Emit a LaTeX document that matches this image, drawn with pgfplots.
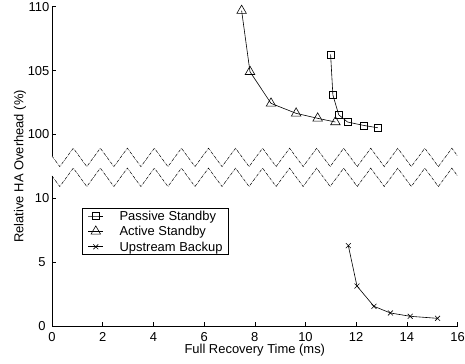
\documentclass[border=0pt]{standalone}
\usepackage{fontspec}
\setmainfont{Liberation Sans}
\usepackage{pgfplots}
\pgfplotsset{compat=1.18}
\usepackage{pgfplotstable}

% Upper group values (real percentages, drawn shifted by -85 on the broken axis)
\pgfplotstableread{
x y
10.99 106.27
11.08 103.09
11.31 101.54
11.66 100.97
12.28 100.71
12.85 100.52
}\passivetab
\pgfplotstableread{
x y
7.48 109.69
7.81 104.91
8.64 102.43
9.63 101.65
10.48 101.26
11.18 100.97
}\activetab
\pgfplotstableread{
x y
11.69 6.29
12.03 3.13
12.70 1.54
13.35 1.02
14.13 0.76
15.21 0.60
}\upstreamtab

\begin{document}
\fontsize{13}{15.6}\selectfont
\begin{tikzpicture}
\useasboundingbox (-52bp,-38bp) rectangle (413bp,326bp);
\begin{axis}[
  at={(0,0)}, anchor=south west,
  scale only axis, width=405.6bp, height=319.3bp,
  xmin=0, xmax=16, ymin=0, ymax=25,
  axis x line*=bottom, axis y line*=left,
  axis line style={-, line width=0.6bp, black},
  y axis line style={draw=none},
  xtick={0,2,...,16},
  ytick={0,5,10,15,20,25},
  yticklabels={0,5,10\kern-3.7bp,100\kern-3.7bp,105\kern-3.7bp,110\kern-3.7bp},
  tick align=inside, major tick length=4bp,
  tick style={line width=0.6bp, black},
  /pgf/number format/assume math mode=true,
  ticklabel style={font=\fontsize{13}{15.6}\selectfont},
  xticklabel style={inner sep=0pt, yshift=-6.6bp},
  yticklabel style={xshift=-1.8bp},
  xlabel={Full Recovery Time (ms)},
  ylabel={Relative HA Overhead (\%)},
  label style={font=\fontsize{13}{15.6}\selectfont, inner sep=0pt},
  xlabel style={at={(axis description cs:0.5,-0.0752)}, anchor=center},
  ylabel style={at={(axis description cs:-0.0789,0.5)}, anchor=center},
  clip=false,
  legend style={at={(0.0732,0.3705)}, anchor=north west, draw=black, line width=0.6bp,
    font=\fontsize{13}{15.6}\selectfont, inner xsep=6bp, inner ysep=1bp,
    nodes={inner sep=0pt, text height=11.5bp, text depth=2.5bp}, row sep=1.4bp},
  legend cell align=left,
  legend image code/.code={%
    \draw[mark repeat=2,mark phase=2] plot coordinates {(0bp,0bp)(7.5bp,0bp)(15bp,0bp)};
    \path (31bp,0bp);},
]
% left axis line, broken between the zigzags
\draw[line width=0.6bp, black] (axis cs:0,0) -- (axis cs:0,11.75);
\draw[line width=0.6bp, black] (axis cs:0,13.31) -- (axis cs:0,25);
% zigzag break lines
\addplot[black, line width=0.5bp, densely dashdotted, forget plot] coordinates {
(0,13.31)(0.307,12.48)(0.840,13.92)(1.373,12.48)(1.907,13.92)(2.440,12.48)(2.973,13.92)(3.507,12.48)(4.040,13.92)(4.573,12.48)(5.107,13.92)(5.640,12.48)(6.173,13.92)(6.707,12.48)(7.240,13.92)(7.773,12.48)(8.307,13.92)(8.840,12.48)(9.373,13.92)(9.907,12.48)(10.440,13.92)(10.973,12.48)(11.507,13.92)(12.040,12.48)(12.573,13.92)(13.107,12.48)(13.640,13.92)(14.173,12.48)(14.707,13.92)(15.240,12.48)(15.773,13.92)(16,13.31)
};
\addplot[black, line width=0.5bp, densely dashdotted, forget plot] coordinates {
(0,11.75)(0.307,10.92)(0.840,12.36)(1.373,10.92)(1.907,12.36)(2.440,10.92)(2.973,12.36)(3.507,10.92)(4.040,12.36)(4.573,10.92)(5.107,12.36)(5.640,10.92)(6.173,12.36)(6.707,10.92)(7.240,12.36)(7.773,10.92)(8.307,12.36)(8.840,10.92)(9.373,12.36)(9.907,10.92)(10.440,12.36)(10.973,10.92)(11.507,12.36)(12.040,10.92)(12.573,12.36)(13.107,10.92)(13.640,12.36)(14.173,10.92)(14.707,12.36)(15.240,10.92)(15.773,12.36)(16,11.75)
};
\addplot[black, line width=0.6bp, mark=square, mark size=3.5bp, mark options={solid}]
  table[x=x, y expr=\thisrow{y}-85] {\passivetab};
\addlegendentry{Passive Standby}
\addplot[black, line width=0.6bp, mark=triangle, mark size=5.5bp, mark options={solid}]
  table[x=x, y expr=\thisrow{y}-85] {\activetab};
\addlegendentry{Active Standby}
\addplot[black, line width=0.6bp, mark=x, mark size=3.5bp, mark options={solid}]
  table[x=x, y=y] {\upstreamtab};
\addlegendentry{Upstream Backup}
\end{axis}
\end{tikzpicture}
\end{document}
